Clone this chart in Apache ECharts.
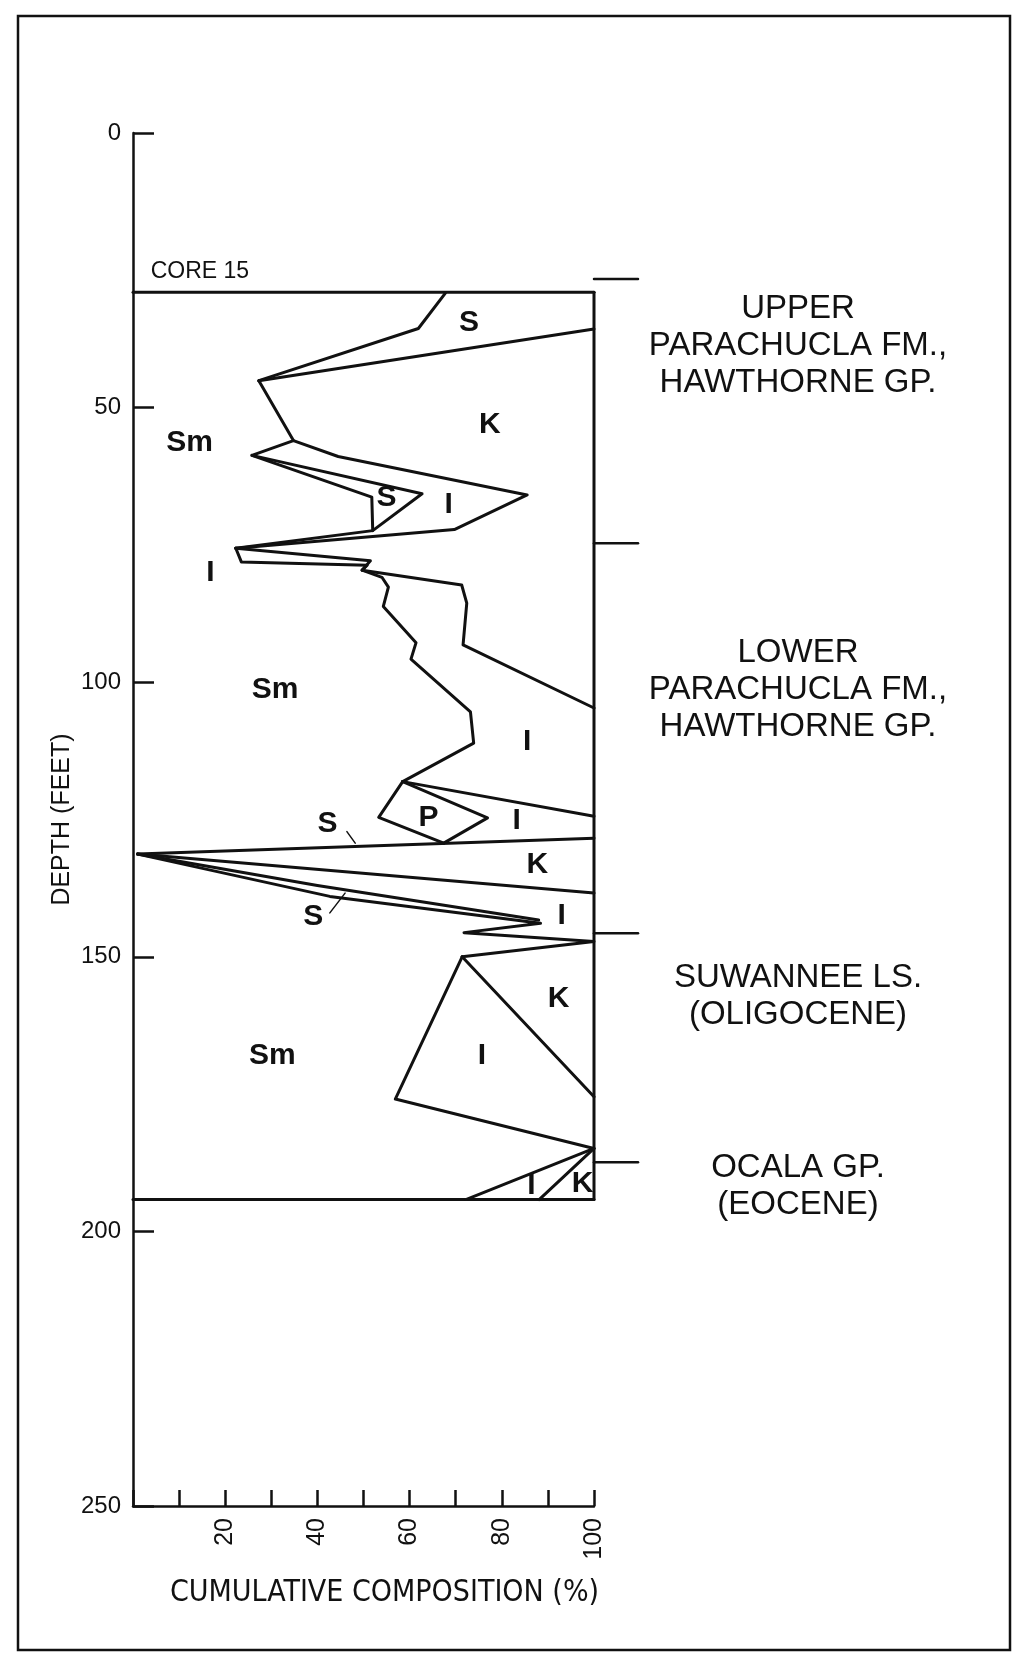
<!DOCTYPE html>
<html>
<head>
<meta charset="utf-8">
<title>Core 15 cumulative clay composition</title>
<script src="https://cdn.jsdelivr.net/npm/echarts/dist/echarts.min.js"></script>
<style>
  html, body { margin: 0; padding: 0; background: #ffffff; }
  #chart { width: 1017px; height: 1679px; }
</style>
</head>
<body>
<div id="chart"></div>
<script>
// ---- axes -------------------------------------------------------------
const depthRange = [0, 250];          // feet
const depthStep = 50;
const pctRange = [0, 100];            // cumulative composition, %
const pctStep = 10;
const pctLabelled = [20, 40, 60, 80, 100];

// ---- cored interval (feet) -------------------------------------------
const coreTop = 29;
const coreBase = 194.2;

// ---- mineral boundary traces: [cumulative %, depth ft] ----------------
const sTopEdge      = [[67.8, 29.1], [61.9, 35.6], [27.3, 45.1]];
const sBaseEdge     = [[100, 35.7], [27.3, 45.1]];
const smEdgeUpper   = [[27.3, 45.1], [34.8, 56.0], [25.8, 58.7], [51.8, 66.3], [52.0, 72.4], [22.3, 75.6]];
const sEdgeUpper    = [[25.8, 58.7], [62.7, 65.7], [52.0, 72.4]];
const iEdgeUpper    = [[34.8, 56.0], [44.5, 58.9], [85.5, 65.9], [69.7, 72.2], [22.3, 75.6]];
const iWedgeTop     = [[22.3, 75.6], [51.5, 77.9], [49.7, 79.6]];
const smEdgeMiddle  = [[22.3, 75.6], [23.5, 78.1], [50.8, 78.7], [49.7, 79.6], [54.0, 80.9], [55.4, 82.7],
                       [54.3, 86.2], [61.4, 92.8], [60.3, 95.8], [73.2, 105.4], [73.9, 111.1], [58.5, 118.1]];
const iEdgeMiddle   = [[49.7, 79.6], [71.3, 82.3], [72.4, 85.6], [71.6, 93.2], [100, 104.7]];
const iEdgeLower    = [[58.5, 118.1], [100, 124.4]];
const pLeftEdge     = [[58.5, 118.1], [53.3, 124.6], [67.4, 129.3]];
const pRightEdge    = [[58.5, 118.1], [76.9, 124.7], [67.4, 129.3]];
const spikeUpper    = [[1.0, 131.3], [100, 128.4]];
const spikeMiddle   = [[1.0, 131.3], [100, 138.4]];
const sliverTop     = [[1.0, 131.3], [40.0, 137.0], [88.0, 143.3]];
const sliverBase    = [[1.0, 131.3], [42.7, 139.0], [88.4, 143.9], [71.8, 145.6], [100, 147.2], [71.4, 150.0]];
const suwanneeSmEdge = [[71.4, 150.0], [56.9, 175.9], [100, 184.9]];
const suwanneeIEdge  = [[71.4, 150.0], [100, 175.5]];
const ocalaSmEdge    = [[100, 184.9], [72.2, 194.2]];
const ocalaIEdge     = [[100, 184.9], [88.1, 194.2]];

// leader lines from the small S labels
const sLeaderUpper = [[46.4, 127.2], [48.2, 129.3]];
const sLeaderLower = [[42.7, 142.0], [46.0, 138.4]];

// ---- formation contacts (feet); ticks run across the first part of the side panel
const formationTops = [26.6, 74.7, 145.7, 187.4];
const contactTickSpan = [0, 0.11];

// ---- mineral zone labels: [text, %, depth] ------------------------------
const zoneLabels = [
  ['Sm', 12.3, 56.4], ['Sm', 30.8, 101.3], ['Sm', 30.2, 168.1],
  ['S', 72.9, 34.5], ['K', 77.4, 53.1], ['S', 55.0, 66.5], ['I', 68.5, 67.6],
  ['I', 16.8, 80.1], ['I', 85.5, 110.8], ['P', 64.1, 124.6], ['I', 83.2, 125.3],
  ['S', 42.2, 125.8], ['K', 87.7, 133.2], ['S', 39.1, 142.7], ['I', 93.0, 142.5],
  ['K', 92.3, 157.7], ['I', 75.7, 168.1], ['I', 86.4, 191.7], ['K', 97.5, 191.4]
];
const coreLabel = ['CORE 15', 14.5, 25.3];

// ---- formation names: [text, centre depth] ------------------------------
const formationNames = [
  ['UPPER\nPARACHUCLA FM.,\nHAWTHORNE GP.', 38.7],
  ['LOWER\nPARACHUCLA FM.,\nHAWTHORNE GP.', 101.4],
  ['SUWANNEE LS.\n(OLIGOCENE)', 157.3],
  ['OCALA GP.\n(EOCENE)', 191.8]
];

// ---- drawing -----------------------------------------------------------
const FONT = "'Liberation Sans', Arial, Helvetica, sans-serif";
const NARROW = "'Liberation Sans Narrow', 'DejaVu Sans Condensed', 'Liberation Sans', sans-serif";
const INK = '#111111';

function trace(points, width, panel) {
  const idx = panel || 0;
  return {
    type: 'line', data: points, xAxisIndex: idx, yAxisIndex: idx,
    symbol: 'none', clip: false, silent: true, z: 3,
    lineStyle: { color: INK, width: width || 3, join: 'round', cap: 'round' }
  };
}

const traces = [
  [[0, coreTop], [100, coreTop]],
  [[100, coreTop], [100, coreBase]],
  [[0, coreBase], [100, coreBase]],
  sTopEdge, sBaseEdge, smEdgeUpper, sEdgeUpper, iEdgeUpper, iWedgeTop,
  smEdgeMiddle, iEdgeMiddle, iEdgeLower, pLeftEdge, pRightEdge,
  spikeUpper, spikeMiddle, sliverTop, sliverBase,
  suwanneeSmEdge, suwanneeIEdge, ocalaSmEdge, ocalaIEdge
].map(p => trace(p, 3));

const contactTicks = formationTops.map(d => trace([[contactTickSpan[0], d], [contactTickSpan[1], d]], 2.5, 1));
const leaders = [sLeaderUpper, sLeaderLower].map(p => trace(p, 1.5));

const hiddenPoint = { color: 'rgba(0,0,0,0)', opacity: 1 };

function textLayer(panel, items, labelStyle) {
  return {
    type: 'scatter', xAxisIndex: panel, yAxisIndex: panel, symbolSize: 0, silent: true, z: 5,
    itemStyle: hiddenPoint,
    data: items,
    label: Object.assign({
      show: true, position: 'inside', formatter: '{b}', color: INK, opacity: 1,
      align: 'center', verticalAlign: 'middle'
    }, labelStyle)
  };
}

const series = traces.concat(contactTicks, leaders, [
  textLayer(0, zoneLabels.map(l => ({ name: l[0], value: [l[1], l[2]] })),
    { fontFamily: FONT, fontWeight: 'bold', fontSize: 30 }),
  textLayer(0, [{ name: coreLabel[0], value: [coreLabel[1], coreLabel[2]] }],
    { fontFamily: FONT, fontSize: 23 }),
  textLayer(1, formationNames.map(f => ({ name: f[0], value: [0.51, f[1]] })),
    { fontFamily: FONT, fontSize: 33, lineHeight: 37 })
]);

const option = {
  animation: false,
  backgroundColor: '#ffffff',
  graphic: [{
    type: 'rect', silent: true, z: 0,
    shape: { x: 18, y: 16, width: 992, height: 1634 },
    style: { fill: 'none', stroke: INK, lineWidth: 2.5 }
  }],
  grid: [
    { left: 133, top: 133, width: 461, height: 1373, outerBoundsMode: 'none', containLabel: false },
    { left: 594, top: 133, width: 400, height: 1373, outerBoundsMode: 'none', containLabel: false }
  ],
  xAxis: [{
    gridIndex: 0, type: 'value', position: 'bottom',
    min: pctRange[0], max: pctRange[1], interval: pctStep,
    name: 'CUMULATIVE COMPOSITION (%)', nameLocation: 'middle', nameGap: 72,
    nameTextStyle: { fontFamily: NARROW, fontSize: 30, color: INK, padding: [0, 0, 0, 42] },
    axisLine: { show: true, onZero: false, lineStyle: { color: INK, width: 2.5 } },
    axisTick: { show: true, inside: true, length: 16, lineStyle: { color: INK, width: 2.5 } },
    axisLabel: {
      rotate: 90, margin: 12, fontFamily: FONT, fontSize: 25, color: INK,
      formatter: v => (pctLabelled.indexOf(v) >= 0 ? String(v) : '')
    },
    splitLine: { show: false }
  }, {
    gridIndex: 1, type: 'value', min: 0, max: 1, show: false
  }],
  yAxis: [{
    gridIndex: 0, type: 'value', inverse: true, position: 'left',
    min: depthRange[0], max: depthRange[1], interval: depthStep,
    name: 'DEPTH (FEET)', nameLocation: 'middle', nameGap: 58,
    nameTextStyle: { fontFamily: FONT, fontSize: 25, color: INK },
    axisLine: { show: true, onZero: false, lineStyle: { color: INK, width: 2.5 } },
    axisTick: { show: true, inside: true, length: 21, lineStyle: { color: INK, width: 2.5 } },
    axisLabel: { margin: 12, fontFamily: FONT, fontSize: 24, color: INK },
    splitLine: { show: false }
  }, {
    gridIndex: 1, type: 'value', inverse: true, min: depthRange[0], max: depthRange[1], show: false
  }],
  series: series
};

const chart = echarts.init(document.getElementById('chart'), null, { renderer: 'canvas' });
chart.setOption(option);
</script>
</body>
</html>
